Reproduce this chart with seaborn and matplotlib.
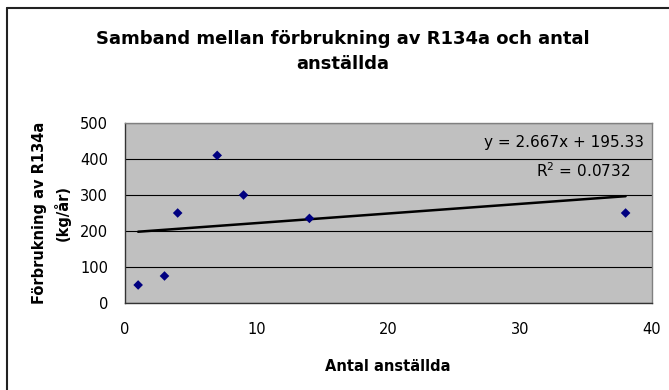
import matplotlib
matplotlib.use("Agg")
import matplotlib.pyplot as plt
from matplotlib.lines import Line2D
import seaborn as sns
import pandas as pd

# Data
employees = [1, 3, 4, 7, 9, 14, 38]
consumption = [50, 75, 250, 410, 300, 235, 250]
x_ticks = [0, 10, 20, 30, 40]
y_ticks = [0, 100, 200, 300, 400, 500]

title = "Samband mellan förbrukning av R134a och antal\nanställda"
x_label = "Antal anställda"
y_label = "Förbrukning av R134a\n(kg/år)"
eq_text = "y = 2.667x + 195.33"
r2_text = "R$^2$ = 0.0732"

df = pd.DataFrame({"x": employees, "y": consumption})

sns.set_theme(style="white")
plt.rcParams["font.family"] = ["DejaVu Sans"]
plt.rcParams["text.color"] = "black"
plt.rcParams["axes.labelcolor"] = "black"

fig = plt.figure(figsize=(6.69, 3.90), dpi=100)
ax = fig.add_axes([0.1868, 0.2231, 0.7877, 0.4615])
ax.set_facecolor("#C0C0C0")

sns.regplot(data=df, x="x", y="y", ax=ax, scatter=False, ci=None,
            truncate=True, line_kws=dict(color="black", lw=1.8, zorder=3))
sns.scatterplot(data=df, x="x", y="y", ax=ax, marker="D", s=24,
                color="#000080", edgecolor="none", linewidth=0, zorder=4)

ax.set_xlim(0, 40)
ax.set_ylim(0, 500)
ax.set_xticks(x_ticks)
ax.set_yticks(y_ticks)
ax.set_xticklabels([str(v) for v in x_ticks], fontsize=10.5)
ax.set_yticklabels([str(v) for v in y_ticks], fontsize=10.5)
ax.set_xlabel("")
ax.set_ylabel("")

ax.yaxis.grid(True, color="black", lw=0.8)
ax.xaxis.grid(False)
ax.set_axisbelow(True)

for side in ["top", "right"]:
    ax.spines[side].set_color("#808080")
    ax.spines[side].set_linewidth(1.0)
for side in ["left", "bottom"]:
    ax.spines[side].set_color("#333333")
    ax.spines[side].set_linewidth(1.0)

ax.tick_params(axis="both", direction="out", length=4, width=1,
               color="#333333", labelcolor="black")
ax.tick_params(axis="y", pad=8)
ax.tick_params(axis="x", pad=10)

ax.text(39.4, 447, eq_text, ha="right", va="center", fontsize=11, color="black")
ax.text(34.76, 367, r2_text, ha="center", va="center", fontsize=11, color="black")

fig.text(0.513, 0.868, title, ha="center", va="center", fontsize=13,
         fontweight="bold", linespacing=1.45, multialignment="center",
         color="black")
fig.text(0.58, 0.0615, x_label, ha="center", va="center", fontsize=10.5,
         fontweight="bold", color="black")
fig.text(0.077, 0.454, y_label, ha="center", va="center", fontsize=10.5,
         fontweight="bold", rotation=90, linespacing=1.5,
         multialignment="center", color="black")

# chart-area frame (left and top edges visible)
fig.add_artist(Line2D([7 / 669, 7 / 669], [0, 1 - 8 / 390],
                      transform=fig.transFigure, color="#222222", lw=1.5))
fig.add_artist(Line2D([7 / 669, 1], [1 - 8 / 390, 1 - 8 / 390],
                      transform=fig.transFigure, color="#222222", lw=1.5))

fig.savefig("out.png", dpi=100)
